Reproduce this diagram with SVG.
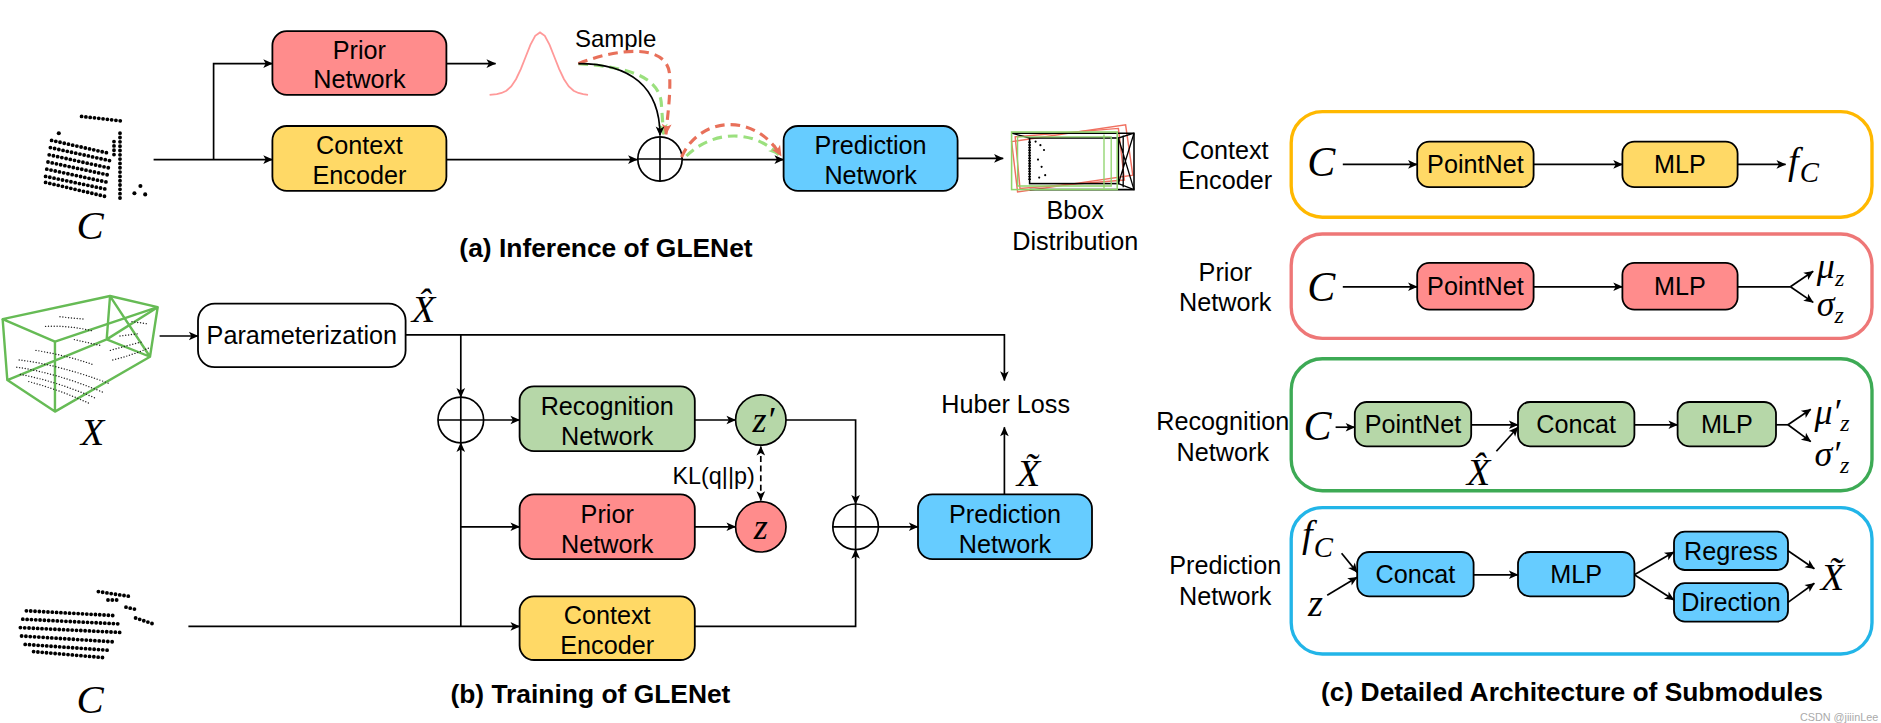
<svg xmlns="http://www.w3.org/2000/svg" width="1881" height="723" viewBox="0 0 1881 723">
<defs>
<style>
.t{font-family:"Liberation Sans",Arial,sans-serif;font-size:21px;fill:#000;text-anchor:middle}
.cap{font-family:"Liberation Sans",Arial,sans-serif;font-size:22px;font-weight:bold;fill:#000;text-anchor:middle}
.m{font-family:"Liberation Serif","Times New Roman",serif;font-style:italic;fill:#000}
.bx{stroke:#000;stroke-width:1.5}
.ln{fill:none;stroke:#000;stroke-width:1.4}
.ar{marker-end:url(#ah)}
.red{fill:#FF8C8C}.yel{fill:#FFD966}.blu{fill:#66CCFF}.grn{fill:#B6D7A8}.wht{fill:#fff}
.dot{fill:none;stroke:#000;stroke-linecap:round;stroke-dasharray:0 3.6;stroke-width:3.2}
.sdot{fill:none;stroke:#222;stroke-linecap:round;stroke-dasharray:0 2.4;stroke-width:1.2}
.dr{fill:none;stroke:#E8705A;stroke-width:2.6;stroke-dasharray:8 5}
.dg{fill:none;stroke:#9BE07E;stroke-width:2.6;stroke-dasharray:8 5}
.pan{fill:none;stroke-width:2.8}
</style>
<marker id="ah" viewBox="0 0 10 10" refX="9.5" refY="5" markerWidth="9" markerHeight="8" markerUnits="userSpaceOnUse" orient="auto"><path d="M0,0.5 L10,5 L0,9.5 L2.5,5 z" fill="#000"/></marker>
<marker id="ahs" viewBox="0 0 10 10" refX="9.5" refY="5" markerWidth="9" markerHeight="8" markerUnits="userSpaceOnUse" orient="auto-start-reverse"><path d="M0,0.5 L10,5 L0,9.5 L2.5,5 z" fill="#000"/></marker>
<marker id="ahr" viewBox="0 0 10 10" refX="9.5" refY="5" markerWidth="10" markerHeight="9" markerUnits="userSpaceOnUse" orient="auto"><path d="M0,0.5 L10,5 L0,9.5 L2.5,5 z" fill="#E8705A"/></marker>
<marker id="ahg" viewBox="0 0 10 10" refX="9.5" refY="5" markerWidth="10" markerHeight="9" markerUnits="userSpaceOnUse" orient="auto"><path d="M0,0.5 L10,5 L0,9.5 L2.5,5 z" fill="#9BE07E"/></marker>
</defs>
<rect width="1881" height="723" fill="#fff"/>
<g transform="scale(1.2)">

<!-- ===== (a) Inference ===== -->
<g id="a-input-cloud">
<path class="dot" d="M68,97 L103,101"/>
<path class="dot" d="M43,117 L92,128 M42,123 L92,134 M41,129 L91,140 M40,135 L91,146 M39,141 L90,152 M38,147 L90,158 M38,152 L89,164"/>
<path class="dot" d="M100,111 L100,166 M95,118 L95,130"/>
<circle cx="49" cy="111" r="1.7"/><circle cx="112" cy="161" r="1.7"/><circle cx="117" cy="155" r="1.7"/><circle cx="121" cy="162" r="1.7"/>
<text class="m" x="75" y="199" font-size="34" text-anchor="middle">C</text>
</g>
<g id="a-prior"><rect class="bx red" x="227" y="26" width="145" height="53" rx="12"/><text class="t" x="299.5" y="49.5">Prior</text><text class="t" x="299.5" y="73.5">Network</text></g>
<g id="a-context"><rect class="bx yel" x="227" y="105" width="145" height="54" rx="12"/><text class="t" x="299.5" y="128.5">Context</text><text class="t" x="299.5" y="153.5">Encoder</text></g>
<g id="a-gauss"><polyline fill="none" stroke="#FF9999" stroke-width="1.5" points="408,79 414,78.4 418,77.5 422,75.6 426,72 430,66 434,57.6 438,47.5 442,37.4 446,29.8 450,27 454,29.8 458,37.4 462,47.5 466,57.6 470,66 474,72 478,75.6 482,77.5 486,78.4 490,79"/></g>
<text id="a-sample" class="t" x="513" y="39" style="font-size:20px">Sample</text>
<g id="a-plus"><circle cx="550" cy="132.5" r="18.5" fill="#fff" stroke="#000" stroke-width="1.4"/><path class="ln" d="M531.5,132.5 H568.5 M550,114 V151"/></g>
<g id="a-predict"><rect class="bx blu" x="653" y="105" width="145" height="54" rx="12"/><text class="t" x="725.5" y="128.5">Prediction</text><text class="t" x="725.5" y="153.5">Network</text></g>
<g id="a-bbox">
<polygon points="846,114 932,107 937,150 850,157" fill="none" stroke="#F07060" stroke-width="1.2"/>
<polygon points="843,118 938,104 944,146 848,160" fill="none" stroke="#F07060" stroke-width="1.2"/>
<rect x="858" y="115" width="74" height="38" fill="none" stroke="#000" stroke-width="1.3"/>
<polyline points="843,111 945,111 945,158 858,158" fill="none" stroke="#000" stroke-width="1.3"/>
<path d="M843,111 L858,115 M932,115 L945,111 M932,153 L945,158 M932,115 L945,158 M945,111 L932,153 M936,113 V156" fill="none" stroke="#000" stroke-width="1.1"/>
<rect x="843" y="110" width="88" height="48" fill="none" stroke="#8ED46B" stroke-width="1.3"/>
<path d="M848,114 H926 V155 H848 Z M920,112 V157" fill="none" stroke="#8ED46B" stroke-width="1.1"/>
<path d="M858,118 V150" stroke="#000" stroke-width="2.2" stroke-dasharray="1.2 1" fill="none"/>
<circle cx="863" cy="118" r="0.9"/><circle cx="867" cy="121" r="0.9"/><circle cx="870" cy="125" r="0.9"/><circle cx="865" cy="133" r="0.9"/><circle cx="868" cy="139" r="0.9"/><circle cx="871" cy="146" r="0.9"/><circle cx="866" cy="148" r="0.9"/>
<text class="t" x="896" y="182.5">Bbox</text><text class="t" x="896" y="208.5">Distribution</text>
</g>
<text id="cap-a" class="cap" x="505" y="214">(a) Inference of GLENet</text>

<!-- ===== (b) Training ===== -->
<g id="b-x-box">
<g fill="none" stroke="#66BB55" stroke-width="2" stroke-linejoin="round">
<polygon points="2.2,266 91.7,246.7 131.4,256 45.8,284.7"/>
<path d="M2.2,266 L6.1,316.7 L45.8,343 L125,297.3 L131.4,256 M45.8,284.7 V343 M91.7,246.7 L88.9,282.8 L125,297.3 M88.9,282.8 L6.1,316.7 M91.7,246.7 L125,297.3 M131.4,256 L88.9,282.8"/>
</g>
<path class="sdot" d="M16,300 Q50,304 92,320 M14,306 Q48,311 86,327 M17,312 Q48,318 80,332 M24,318 Q50,325 74,336 M30,292 Q55,296 78,304"/>
<path class="sdot" d="M38,272 Q58,271 78,276 M50,264 L70,266 M62,283 L84,288 M94,300 Q110,296 124,290 M92,292 Q106,288 118,285 M100,280 L116,278 M110,268 L124,270"/>
<text class="m" x="77" y="371" font-size="32" text-anchor="middle">X</text>
</g>
<g id="b-param"><rect class="bx wht" x="165" y="253" width="173" height="53" rx="14"/><text class="t" x="251.5" y="287">Parameterization</text></g>
<text id="b-xhat-label" class="m" x="353" y="268" font-size="32" text-anchor="middle">X&#x302;</text>
<g id="b-plus1"><circle cx="384" cy="350" r="19" fill="#fff" stroke="#000" stroke-width="1.4"/><path class="ln" d="M365,350 H403 M384,331 V369"/></g>
<g id="b-recog"><rect class="bx grn" x="433" y="322" width="146" height="54" rx="12"/><text class="t" x="506" y="345.5">Recognition</text><text class="t" x="506" y="370.5">Network</text></g>
<g id="b-zp"><circle cx="634" cy="350" r="21" fill="#B6D7A8" stroke="#000" stroke-width="1.4"/><text class="m" x="627" y="360" font-size="30">z′</text></g>
<text id="b-kl" class="t" x="629" y="403" style="font-size:19.5px;text-anchor:end">KL(q||p)</text>
<g id="b-prior"><rect class="bx red" x="433" y="412" width="146" height="54" rx="12"/><text class="t" x="506" y="435.5">Prior</text><text class="t" x="506" y="460.5">Network</text></g>
<g id="b-z"><circle cx="634" cy="439" r="21" fill="#FF8C8C" stroke="#000" stroke-width="1.4"/><text class="m" x="634" y="449" font-size="30" text-anchor="middle">z</text></g>
<g id="b-context"><rect class="bx yel" x="433" y="497" width="146" height="53" rx="12"/><text class="t" x="506" y="520">Context</text><text class="t" x="506" y="545">Encoder</text></g>
<g id="b-plus2"><circle cx="713" cy="439" r="19" fill="#fff" stroke="#000" stroke-width="1.4"/><path class="ln" d="M694,439 H732 M713,420 V458"/></g>
<g id="b-predict"><rect class="bx blu" x="765" y="412" width="145" height="54" rx="12"/><text class="t" x="837.5" y="435.5">Prediction</text><text class="t" x="837.5" y="460.5">Network</text></g>
<text id="b-huber" class="t" x="838" y="344.5">Huber Loss</text>
<text id="b-xtilde-label" class="m" x="857" y="405" font-size="32" text-anchor="middle">X&#x303;</text>
<g id="b-input-cloud">
<path class="dot" d="M82,493 L108,497 M90,500 L100,500"/>
<path class="dot" d="M22,509 L96,513 M19,516 L101,520 M17,523 L100,527 M18,530 L97,535 M21,537 L92,542 M28,543 L86,548"/>
<path class="dot" d="M105,506 L114,508 M113,515 L128,520"/>
<text class="m" x="75" y="594" font-size="34" text-anchor="middle">C</text>
</g>
<text id="cap-b" class="cap" x="492" y="586">(b) Training of GLENet</text>

<!-- ===== (c) Submodules ===== -->
<g id="c-ctx-panel">
<rect class="pan" x="1076" y="93" width="484" height="88" rx="26" stroke="#FFB800"/>
<text class="t" x="1021" y="132.5">Context</text><text class="t" x="1021" y="157.5">Encoder</text>
<text class="m" x="1101" y="147" font-size="35" text-anchor="middle">C</text>
<rect class="bx yel" x="1181" y="118" width="97" height="38" rx="10"/><text class="t" x="1229.5" y="144.5">PointNet</text>
<rect class="bx yel" x="1352" y="118" width="96" height="38" rx="10"/><text class="t" x="1400" y="144.5">MLP</text>
<text class="m" x="1490" y="145" font-size="32">f<tspan font-size="24" dx="1" dy="7">C</tspan></text>
</g>
<g id="c-prior-panel">
<rect class="pan" x="1076" y="195" width="484" height="87" rx="26" stroke="#EE7777"/>
<text class="t" x="1021" y="234.5">Prior</text><text class="t" x="1021" y="259.5">Network</text>
<text class="m" x="1101" y="251" font-size="35" text-anchor="middle">C</text>
<rect class="bx red" x="1181" y="219" width="97" height="39" rx="10"/><text class="t" x="1229.5" y="246">PointNet</text>
<rect class="bx red" x="1352" y="219" width="96" height="39" rx="10"/><text class="t" x="1400" y="246">MLP</text>
<text class="m" x="1514" y="232" font-size="30">μ<tspan font-size="20" dy="6">z</tspan></text>
<text class="m" x="1514" y="263" font-size="30">σ<tspan font-size="20" dy="6">z</tspan></text>
</g>
<g id="c-recog-panel">
<rect class="pan" x="1076" y="299" width="484" height="110" rx="26" stroke="#3DAA55"/>
<text class="t" x="1019" y="358.5">Recognition</text><text class="t" x="1019" y="384.5">Network</text>
<text class="m" x="1098" y="367" font-size="35" text-anchor="middle">C</text>
<rect class="bx grn" x="1129" y="335" width="97" height="37" rx="10"/><text class="t" x="1177.5" y="361">PointNet</text>
<rect class="bx grn" x="1265" y="335" width="97" height="37" rx="10"/><text class="t" x="1313.5" y="361">Concat</text>
<rect class="bx grn" x="1398" y="335" width="82" height="37" rx="10"/><text class="t" x="1439" y="361">MLP</text>
<text class="m" x="1232" y="404" font-size="32" text-anchor="middle">X&#x302;</text>
<text class="m" x="1512" y="353" font-size="30">μ′<tspan font-size="20" dy="6">z</tspan></text>
<text class="m" x="1512" y="388" font-size="30">σ′<tspan font-size="20" dy="6">z</tspan></text>
</g>
<g id="c-pred-panel">
<rect class="pan" x="1076" y="423" width="484" height="122" rx="26" stroke="#22B5E8"/>
<text class="t" x="1021" y="478.5">Prediction</text><text class="t" x="1021" y="504.5">Network</text>
<text class="m" x="1085" y="456" font-size="32">f<tspan font-size="24" dx="1" dy="8">C</tspan></text>
<text class="m" x="1090" y="513" font-size="32">z</text>
<rect class="bx blu" x="1131" y="460" width="97" height="37" rx="10"/><text class="t" x="1179.5" y="486">Concat</text>
<rect class="bx blu" x="1265" y="460" width="97" height="37" rx="10"/><text class="t" x="1313.5" y="486">MLP</text>
<rect class="bx blu" x="1395" y="443" width="95" height="32" rx="9"/><text class="t" x="1442.5" y="466.5">Regress</text>
<rect class="bx blu" x="1395" y="486" width="95" height="32" rx="9"/><text class="t" x="1442.5" y="509.5">Direction</text>
<text class="m" x="1527" y="492" font-size="32" text-anchor="middle">X&#x303;</text>
</g>
<text id="cap-c" class="cap" x="1310" y="584">(c) Detailed Architecture of Submodules</text>
<text id="watermark" x="1500" y="601" font-family="'Liberation Sans',Arial,sans-serif" font-size="9" fill="#aaa">CSDN @jiiinLee</text>

<!-- ===== connectors ===== -->
<g id="connectors">
<path class="ln ar" d="M128,133 H227"/>
<path class="ln ar" d="M178,133 V53 H227"/>
<path class="ln ar" d="M372,53 H413"/>
<path class="dg" marker-end="url(#ahg)" d="M482,53 C520,56 548,62 551,85 L553,112"/>
<path class="dr" marker-end="url(#ahr)" d="M482,53 C515,40 556,36 558,62 C559,80 556,98 555,112"/>
<path class="ln ar" stroke-width="1.8" d="M482,53 C525,53 550,72 550,113"/>
<path class="ln ar" d="M372,133 H531"/>
<path class="ln ar" d="M568.5,133 H653"/>
<path class="dg" marker-end="url(#ahg)" d="M572,130 C592,110 626,106 649,129"/>
<path class="dr" marker-end="url(#ahr)" d="M568,131 C582,98 628,92 651,130"/>
<path class="ln ar" d="M798,132 H836"/>

<path class="ln ar" d="M133,280 H165"/>
<path class="ln ar" d="M338,279 H837 V317"/>
<path class="ln ar" d="M384,279 V331"/>
<path class="ln ar" d="M403,350 H433"/>
<path class="ln ar" d="M579,350 H613"/>
<path class="ln ar" d="M655,350 H713 V420"/>
<path class="ln" stroke-dasharray="5 3" marker-start="url(#ahs)" marker-end="url(#ah)" d="M634,372 V417"/>
<path class="ln ar" d="M157,522 H433"/>
<path class="ln ar" d="M384,522 V369"/>
<path class="ln ar" d="M384,439 H433"/>
<path class="ln ar" d="M579,439 H613"/>
<path class="ln ar" d="M579,522 H713 V458"/>
<path class="ln ar" d="M732,439 H765"/>
<path class="ln ar" d="M837,412 V356"/>

<path class="ln ar" d="M1119,137 H1181"/>
<path class="ln ar" d="M1278,137 H1352"/>
<path class="ln ar" d="M1448,137 H1488"/>
<path class="ln ar" d="M1119,239 H1181"/>
<path class="ln ar" d="M1278,239 H1352"/>
<path class="ln" d="M1448,239 H1492"/>
<path class="ln ar" d="M1492,239 L1511,226"/>
<path class="ln ar" d="M1492,239 L1511,252"/>
<path class="ln ar" d="M1113,356 H1129"/>
<path class="ln ar" d="M1226,354 H1265"/>
<path class="ln ar" d="M1247,376 L1265,356"/>
<path class="ln ar" d="M1362,354 H1398"/>
<path class="ln" d="M1480,354 H1490"/>
<path class="ln ar" d="M1490,354 L1509,341"/>
<path class="ln ar" d="M1490,354 L1509,368"/>
<path class="ln ar" d="M1118,461 L1131,477"/>
<path class="ln ar" d="M1106,496 L1131,481"/>
<path class="ln ar" d="M1228,479 H1265"/>
<path class="ln ar" d="M1362,479 L1395,460"/>
<path class="ln ar" d="M1362,479 L1395,500"/>
<path class="ln ar" d="M1490,459 L1512,474"/>
<path class="ln ar" d="M1490,502 L1512,486"/>
</g>
</g>
</svg>
